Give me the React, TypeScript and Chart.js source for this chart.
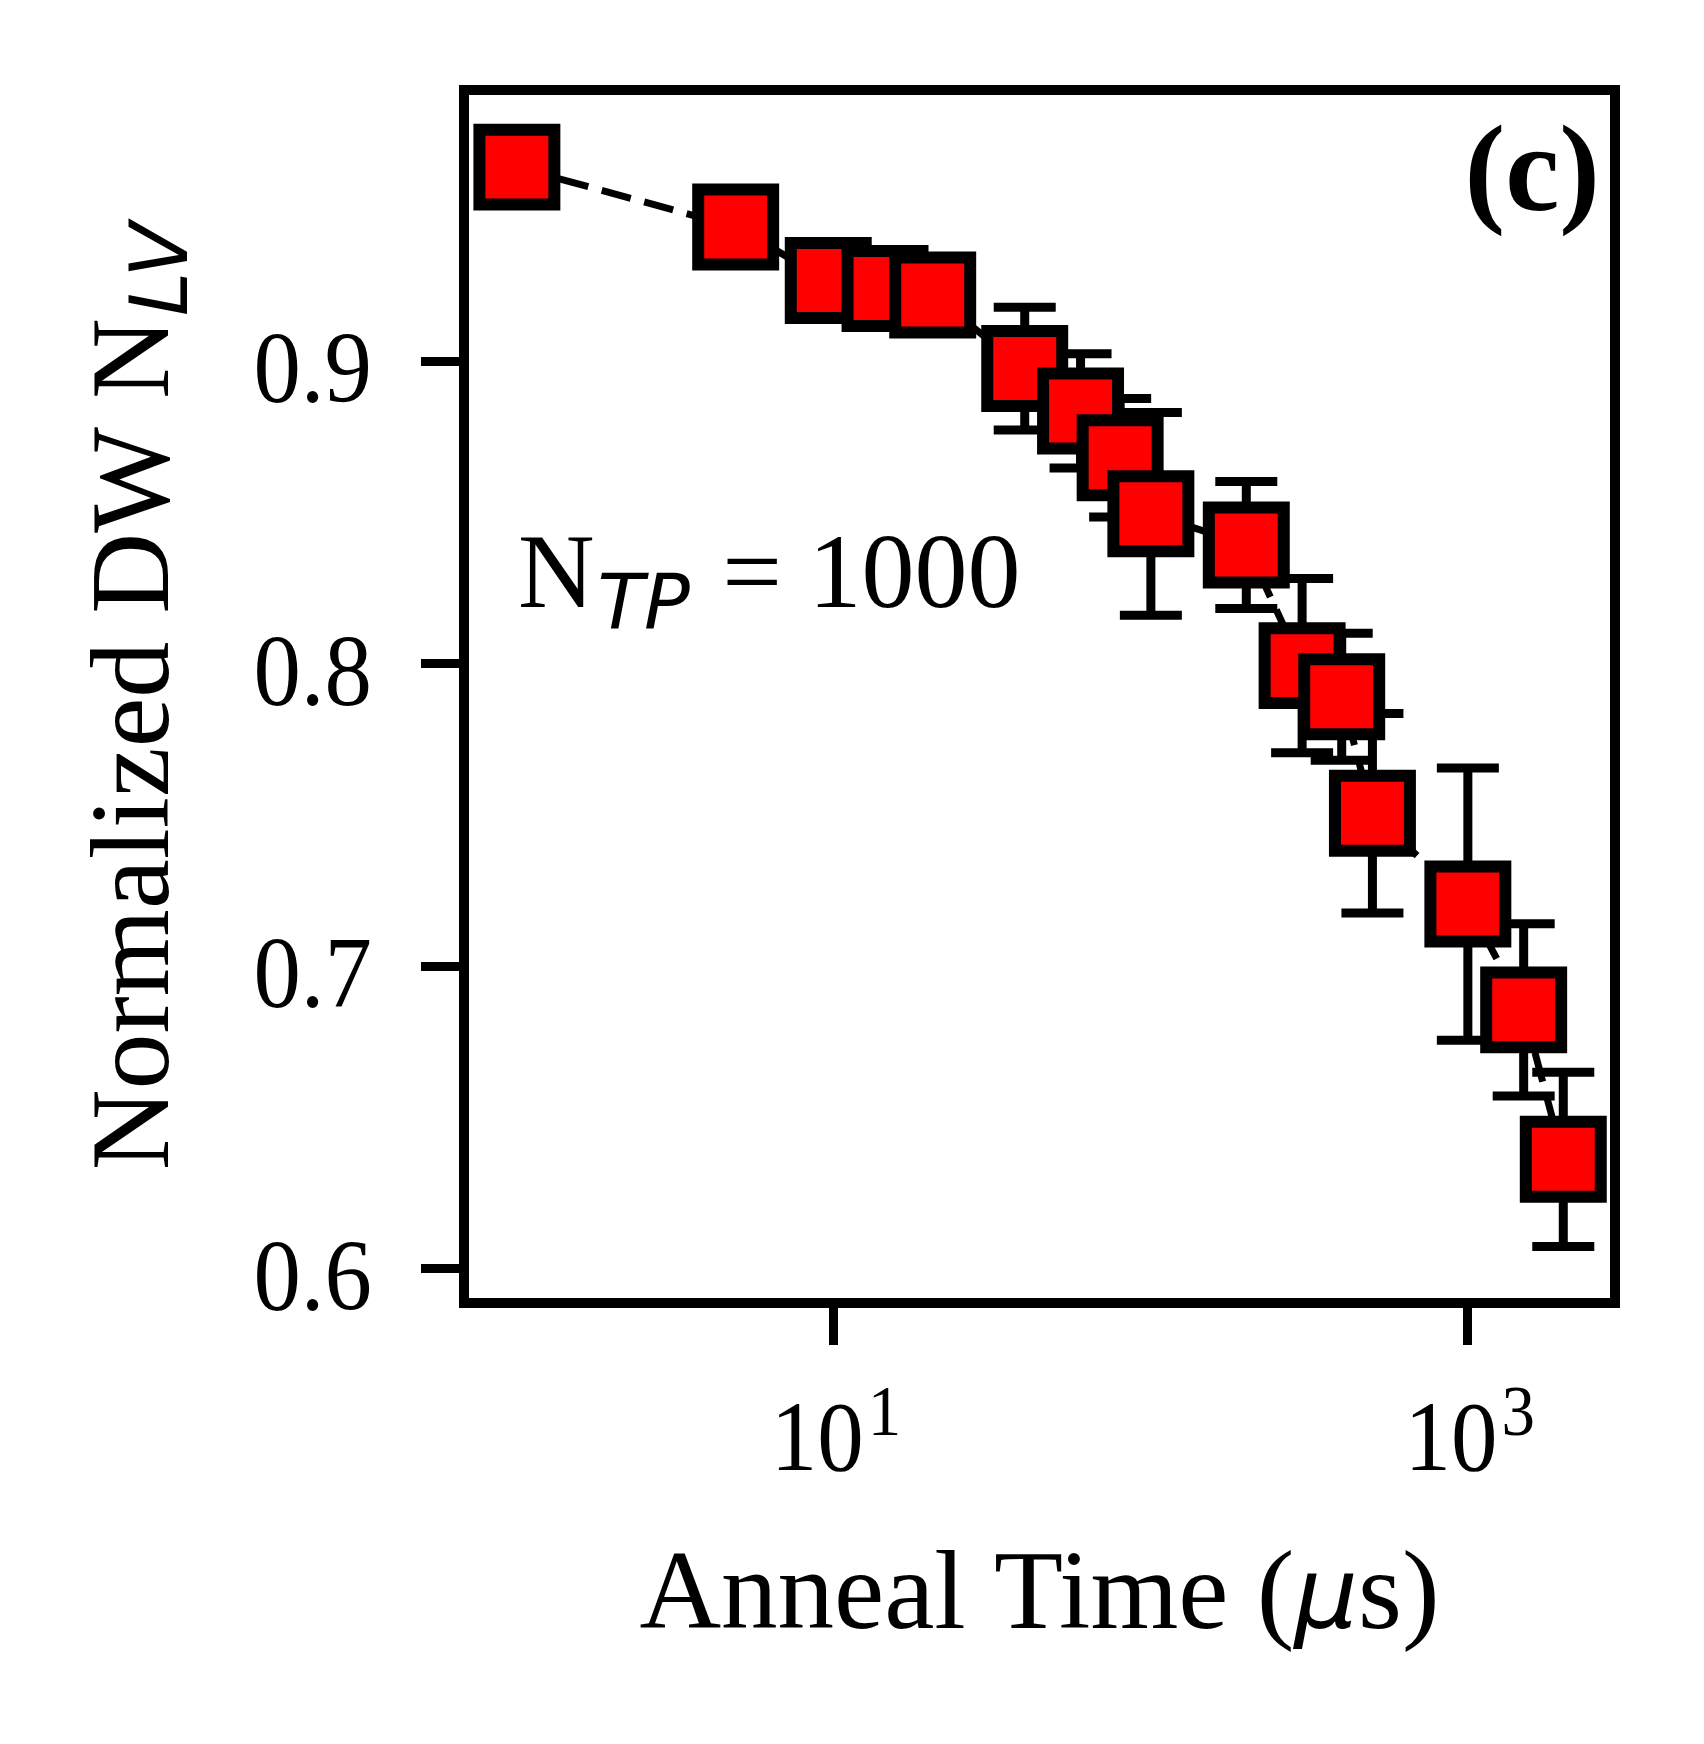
import { useEffect, useRef } from 'react';
import { Chart, registerables } from 'chart.js';

Chart.register(...registerables);

// values
const annealTimes = [1, 4.9, 9.6, 14.5, 20.5, 40, 60, 80, 100, 200, 300, 400, 500, 1000, 1500, 2000];
const nlvValues = [
  0.9641, 0.9443, 0.9266, 0.924, 0.9218, 0.8975, 0.8835, 0.868, 0.8495, 0.8392, 0.7993, 0.789, 0.7505,
  0.7205, 0.6855, 0.6361,
];
const nlvErrors = [
  0.004, 0.004, 0.005, 0.005, 0.005, 0.0203, 0.0189, 0.0196, 0.0335, 0.021, 0.0288, 0.021, 0.033, 0.045,
  0.0285, 0.0288,
];
const xTickValues = [10, 1000];
const xTickExponents = ['1', '3'];
const yTickValues = [0.6, 0.7, 0.8, 0.9];
const yTickLabels = ['0.6', '0.7', '0.8', '0.9'];

const SERIF = '"Liberation Serif", "Times New Roman", serif';
const SANS = '"DejaVu Sans", sans-serif';

function scaledText(ctx: CanvasRenderingContext2D, text: string, x: number, y: number, sx: number) {
  ctx.save();
  ctx.translate(x, y);
  ctx.scale(sx, 1);
  ctx.fillText(text, 0, 0);
  ctx.restore();
}

const errorBarPlugin = {
  id: 'errorBars',
  beforeDatasetsDraw(chart: any) {
    const { ctx } = chart;
    const xs = chart.scales.x;
    const ys = chart.scales.y;
    ctx.save();
    ctx.strokeStyle = '#000';
    ctx.lineWidth = 9;
    ctx.lineCap = 'butt';
    annealTimes.forEach((t, i) => {
      const x = xs.getPixelForValue(t);
      const top = ys.getPixelForValue(nlvValues[i] + nlvErrors[i]);
      const bottom = ys.getPixelForValue(nlvValues[i] - nlvErrors[i]);
      ctx.beginPath();
      ctx.moveTo(x, top);
      ctx.lineTo(x, bottom);
      ctx.moveTo(x - 31, top);
      ctx.lineTo(x + 31, top);
      ctx.moveTo(x - 31, bottom);
      ctx.lineTo(x + 31, bottom);
      ctx.stroke();
    });
    ctx.restore();
  },
};

const decorPlugin = {
  id: 'decor',
  afterDraw(chart: any) {
    const { ctx, chartArea } = chart;
    const xs = chart.scales.x;
    const ys = chart.scales.y;
    ctx.save();

    // frame
    ctx.strokeStyle = '#000';
    ctx.lineWidth = 10;
    ctx.strokeRect(chartArea.left, chartArea.top, chartArea.right - chartArea.left, chartArea.bottom - chartArea.top);

    ctx.fillStyle = '#000';
    ctx.textBaseline = 'alphabetic';

    // y tick labels
    ctx.font = `102px ${SERIF}`;
    ctx.textAlign = 'right';
    yTickValues.forEach((v, i) => {
      const y = ys.getPixelForValue(v);
      scaledText(ctx, yTickLabels[i], chartArea.left - 92, y + 41, 0.93);
    });

    // x tick labels: 10^n
    ctx.textAlign = 'left';
    xTickValues.forEach((v, i) => {
      const x = xs.getPixelForValue(v);
      ctx.font = `100px ${SERIF}`;
      const wBase = ctx.measureText('10').width * 0.93;
      ctx.font = `72px ${SERIF}`;
      const wSup = ctx.measureText(xTickExponents[i]).width * 0.93;
      const start = x + 2 - (wBase + 4 + wSup) / 2;
      ctx.font = `100px ${SERIF}`;
      scaledText(ctx, '10', start, chartArea.bottom + 167, 0.93);
      ctx.font = `72px ${SERIF}`;
      scaledText(ctx, xTickExponents[i], start + wBase + 4, chartArea.bottom + 132, 0.93);
    });

    // x axis title
    const cx = (chartArea.left + chartArea.right) / 2;
    const partA = 'Anneal Time (';
    const partMu = 'μ';
    const partB = 's)';
    ctx.font = `113px ${SERIF}`;
    const wA = ctx.measureText(partA).width;
    const wB = ctx.measureText(partB).width;
    ctx.font = `italic 100px ${SANS}`;
    const wMu = ctx.measureText(partMu).width;
    let px = cx - (wA + wMu + wB) / 2;
    const xBase = chartArea.bottom + 325;
    ctx.font = `113px ${SERIF}`;
    ctx.fillText(partA, px, xBase);
    px += wA;
    ctx.font = `italic 100px ${SANS}`;
    ctx.fillText(partMu, px, xBase);
    px += wMu;
    ctx.font = `113px ${SERIF}`;
    ctx.fillText(partB, px, xBase);

    // y axis title, rotated
    const cy = (chartArea.top + chartArea.bottom) / 2;
    const main = 'Normalized DW N';
    const sub = 'LV';
    ctx.font = `112px ${SERIF}`;
    const wMain = ctx.measureText(main).width;
    ctx.font = `italic 80px ${SANS}`;
    const wSub = ctx.measureText(sub).width;
    ctx.save();
    ctx.translate(168, cy);
    ctx.rotate(-Math.PI / 2);
    const sy = -(wMain + 2 + wSub) / 2;
    ctx.font = `112px ${SERIF}`;
    ctx.fillText(main, sy, 0);
    ctx.font = `italic 80px ${SANS}`;
    ctx.fillText(sub, sy + wMain + 2, 19);
    ctx.restore();

    // annotation N_TP = 1000
    const ax = chartArea.left + 54;
    const ay = chartArea.top + 517;
    ctx.font = `106px ${SERIF}`;
    ctx.fillText('N', ax, ay);
    const wN = ctx.measureText('N').width;
    ctx.font = `italic 76px ${SANS}`;
    ctx.fillText('TP', ax + wN + 3, ay + 22);
    const wTP = ctx.measureText('TP').width;
    ctx.font = `106px ${SERIF}`;
    ctx.fillText(' = 1000', ax + wN + 3 + wTP + 6, ay);

    // panel label
    ctx.font = `bold 122px ${SERIF}`;
    ctx.textAlign = 'right';
    ctx.fillText('(c)', chartArea.right - 15, chartArea.top + 120);

    ctx.restore();
  },
};

export default function App() {
  const canvasRef = useRef<HTMLCanvasElement>(null);
  const chartRef = useRef<Chart | null>(null);

  useEffect(() => {
    document.body.style.margin = '0';
    if (!canvasRef.current) return;
    if (chartRef.current) chartRef.current.destroy();

    chartRef.current = new Chart(canvasRef.current, {
      type: 'line',
      data: {
        datasets: [
          {
            data: annealTimes.map((t, i) => ({ x: t, y: nlvValues[i] })),
            borderColor: '#000',
            borderWidth: 7,
            borderDash: [30, 14],
            tension: 0,
            fill: false,
            pointStyle: 'rect',
            pointRadius: 53,
            pointBorderWidth: 12,
            pointBackgroundColor: '#ff0000',
            pointBorderColor: '#000',
          },
        ],
      },
      plugins: [errorBarPlugin, decorPlugin],
      options: {
        animation: false,
        responsive: true,
        maintainAspectRatio: false,
        devicePixelRatio: 1,
        events: [],
        layout: { padding: { left: 0, top: 90, right: 89, bottom: 0 } },
        plugins: {
          legend: { display: false },
          tooltip: { enabled: false },
        },
        scales: {
          x: {
            type: 'logarithmic',
            min: 0.681,
            max: 2912,
            border: { display: false },
            grid: {
              drawOnChartArea: false,
              drawTicks: true,
              tickLength: 42,
              tickWidth: 9,
              tickColor: '#000',
              color: '#000',
            },
            ticks: { display: false },
            afterBuildTicks: (scale: any) => {
              scale.ticks = xTickValues.map((v) => ({ value: v }));
            },
            afterFit: (scale: any) => {
              scale.height = 441;
            },
          },
          y: {
            type: 'linear',
            min: 0.5886,
            max: 0.9896,
            border: { display: false },
            grid: {
              drawOnChartArea: false,
              drawTicks: true,
              tickLength: 43,
              tickWidth: 9,
              tickColor: '#000',
              color: '#000',
            },
            ticks: { display: false },
            afterBuildTicks: (scale: any) => {
              scale.ticks = yTickValues.map((v) => ({ value: v }));
            },
            afterFit: (scale: any) => {
              scale.width = 464;
            },
          },
        },
      },
    });

    return () => {
      if (chartRef.current) {
        chartRef.current.destroy();
        chartRef.current = null;
      }
    };
  }, []);

  return (
    <div style={{ width: 1704, height: 1744, position: 'relative', background: '#fff' }}>
      <canvas ref={canvasRef}></canvas>
    </div>
  );
}
